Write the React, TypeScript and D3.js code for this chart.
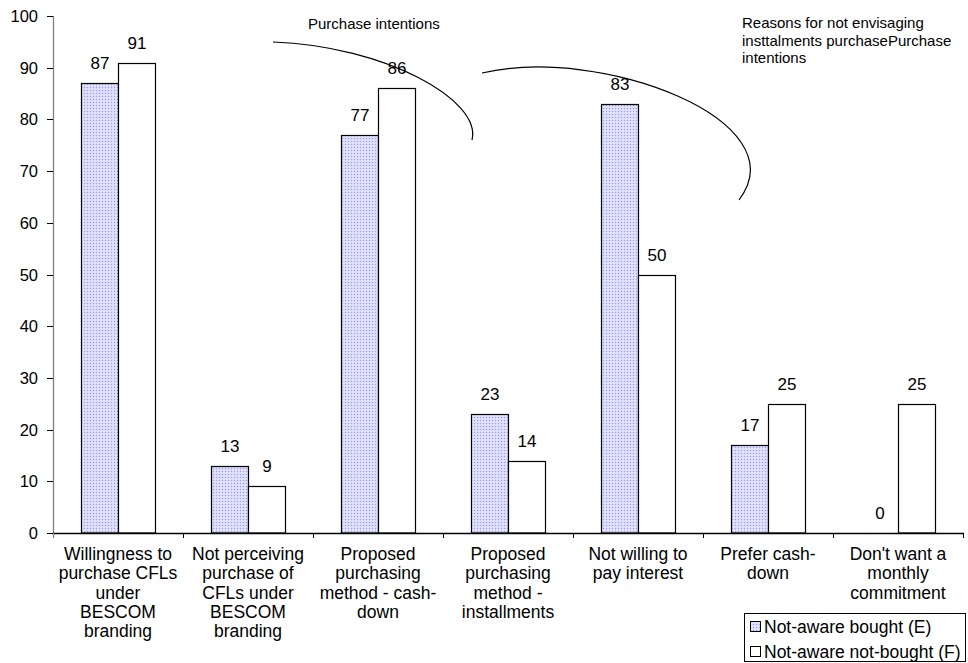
import React from "react";
import * as d3 from "d3";

// Survey categories, one group of bars each (x axis)
const categories = [
  "willing",
  "notPerceiving",
  "cashDown",
  "installments",
  "noInterest",
  "preferCash",
  "noCommitment",
];

// Wrapped axis labels for each category
const categoryLabels = [
  ["Willingness to", "purchase CFLs", "under", "BESCOM", "branding"],
  ["Not perceiving", "purchase of", "CFLs under", "BESCOM", "branding"],
  ["Proposed", "purchasing", "method - cash-", "down"],
  ["Proposed", "purchasing", "method -", "installments"],
  ["Not willing to", "pay interest"],
  ["Prefer cash-", "down"],
  ["Don't want a", "monthly", "commitment"],
];

// Percent values per series
const boughtValues = [87, 13, 77, 23, 83, 17, 0];
const notBoughtValues = [91, 9, 86, 14, 50, 25, 25];

const seriesKeys = ["E", "F"];
const seriesNames = ["Not-aware bought (E)", "Not-aware not-bought (F)"];

const yTicks = [0, 10, 20, 30, 40, 50, 60, 70, 80, 90, 100];

// Bracket annotations above the groups
const annotationTitles = [
  ["Purchase intentions"],
  ["Reasons for not envisaging", "insttalments purchasePurchase", "intentions"],
];

const W = 968;
const H = 663;
const FONT = "'Liberation Sans', Arial, Helvetica, sans-serif";

export default function App() {
  const left = 53;
  const right = 963;
  const top = 16;
  const bottom = 533;

  const x = d3.scaleBand<string>().domain(categories).range([left, right]).padding(0);
  const xs = d3
    .scaleBand<string>()
    .domain(seriesKeys)
    .range([0, x.bandwidth()])
    .paddingInner(0)
    .paddingOuter(0.757);
  const y = d3.scaleLinear().domain([0, 100]).range([bottom, top]);

  const series = [boughtValues, notBoughtValues];
  const fills = ["url(#dotFill)", "#ffffff"];

  const tickBoundaries = d3.range(categories.length + 1).map((i) => left + i * x.step());

  // Curved brackets drawn with d3.path
  const arc1 = d3.path();
  arc1.moveTo(273, 42);
  arc1.bezierCurveTo(385, 46, 482, 100, 472, 140);
  const arc2 = d3.path();
  arc2.moveTo(482, 73);
  arc2.bezierCurveTo(600, 45, 800, 120, 739, 200);

  return (
    <svg
      width={W}
      height={H}
      style={{ position: "absolute", left: 0, top: 0, background: "#fff" }}
      fontFamily={FONT}
    >
      <defs>
        <pattern id="dotFill" width="3" height="3" patternUnits="userSpaceOnUse">
          <rect width="3" height="3" fill="#d8d8fa" />
          <rect x="0" y="0" width="1" height="1" fill="#9a9af0" />
          <rect x="1.5" y="1.5" width="1" height="1" fill="#ffffff" />
        </pattern>
      </defs>

      {/* bars */}
      {series.map((vals, si) =>
        categories.map((c, ci) => {
          const v = vals[ci];
          const bx = Math.round((x(c) ?? 0) + (xs(seriesKeys[si]) ?? 0)) + 0.5;
          const bw = Math.round(xs.bandwidth());
          const by = Math.round(y(v)) + 0.5;
          return (
            <g key={`${si}-${ci}`}>
              {v > 0 && (
                <rect
                  x={bx}
                  y={by}
                  width={bw}
                  height={y(0) - by}
                  fill={fills[si]}
                  stroke="#000"
                  strokeWidth={1.2}
                />
              )}
              <text
                x={bx + bw / 2}
                y={y(v) - 14}
                textAnchor="middle"
                fontSize={17}
                fill="#000"
              >
                {v}
              </text>
            </g>
          );
        })
      )}

      {/* y axis */}
      <line x1={left + 0.5} x2={left + 0.5} y1={top} y2={bottom + 5} stroke="#808080" strokeWidth={1.3} />
      {yTicks.map((t) => (
        <g key={t}>
          <line x1={left - 6} x2={left} y1={Math.round(y(t)) + 0.5} y2={Math.round(y(t)) + 0.5} stroke="#000" />
          <text x={38} y={y(t) + 6} textAnchor="end" fontSize={16.5} fill="#000">
            {t}
          </text>
        </g>
      ))}

      {/* x axis */}
      <line x1={left} x2={right + 1} y1={bottom + 0.5} y2={bottom + 0.5} stroke="#000" strokeWidth={1.3} />
      {tickBoundaries.map((tx, i) => (
        <line
          key={i}
          x1={Math.round(tx) + 0.5}
          x2={Math.round(tx) + 0.5}
          y1={bottom}
          y2={bottom + 5}
          stroke={i === 0 ? "#808080" : "#000"}
        />
      ))}
      {categories.map((c, ci) => (
        <text
          key={c}
          x={(x(c) ?? 0) + x.bandwidth() / 2}
          y={560}
          textAnchor="middle"
          fontSize={17.5}
          fill="#000"
        >
          {categoryLabels[ci].map((ln, li) => (
            <tspan key={li} x={(x(c) ?? 0) + x.bandwidth() / 2} dy={li === 0 ? 0 : 19.3}>
              {ln}
            </tspan>
          ))}
        </text>
      ))}

      {/* annotations */}
      <path d={arc1.toString()} fill="none" stroke="#000" strokeWidth={1.2} />
      <path d={arc2.toString()} fill="none" stroke="#000" strokeWidth={1.2} />
      <text x={308} y={29} fontSize={15} fill="#000">
        {annotationTitles[0][0]}
      </text>
      <text x={742} y={28} fontSize={15} fill="#000">
        {annotationTitles[1].map((ln, li) => (
          <tspan key={li} x={742} dy={li === 0 ? 0 : 17.5}>
            {ln}
          </tspan>
        ))}
      </text>

      {/* legend */}
      <rect x={744.5} y={613.5} width={221} height={48} fill="#fff" stroke="#000" strokeWidth={1} />
      {seriesNames.map((name, i) => (
        <g key={name}>
          <rect
            x={750.5}
            y={626.5 + i * 25 - 5}
            width={10}
            height={10}
            fill={fills[i]}
            stroke="#000"
            strokeWidth={1}
          />
          <text x={764} y={627 + i * 25 + 6} fontSize={17.5} fill="#000">
            {name}
          </text>
        </g>
      ))}
    </svg>
  );
}
